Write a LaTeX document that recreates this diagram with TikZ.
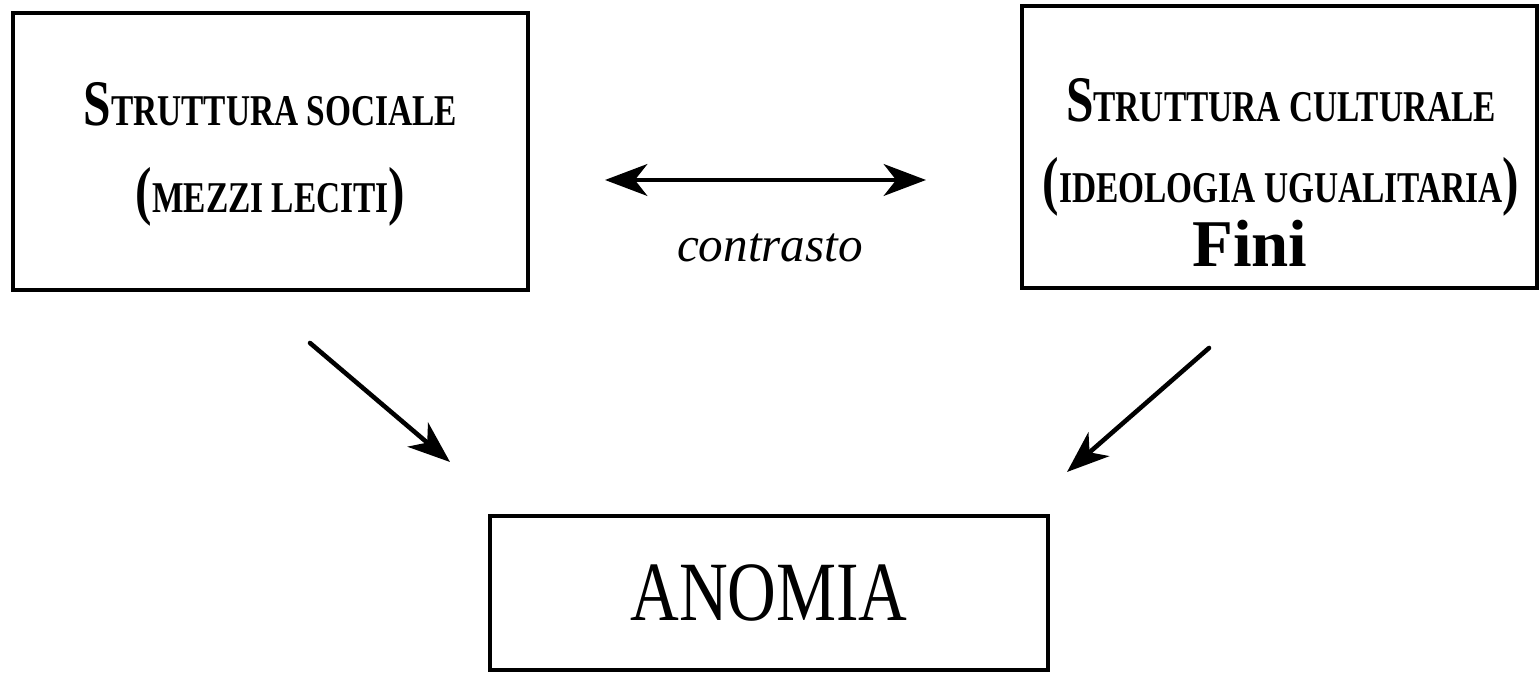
\documentclass[tikz,border=0pt]{standalone}
\usepackage{fontspec}
\setmainfont{Liberation Serif}
\newfontfamily\narrowserif{Liberation Serif}[FakeStretch=0.76]
\newfontfamily\anomiaserif{Liberation Serif}[FakeStretch=0.80]
\usetikzlibrary{arrows.meta}

% big initial and small-cap sized rest
\newcommand{\bigsc}[1]{{\fontsize{18.5}{20}\selectfont #1}}
\newcommand{\smallsc}[1]{{\fontsize{12.5}{14}\selectfont #1}}

\begin{document}
\begin{tikzpicture}[>={Stealth[length=12pt,width=9pt,inset=3.5pt]},
    box/.style={draw=black,line width=1.2pt,inner sep=0pt},
    title/.style={font=\narrowserif\bfseries,anchor=base,inner sep=0pt}]
    \useasboundingbox (0,0) rectangle (15.39,6.76);
    % boxes
    \node[box,minimum width=5.15cm,minimum height=2.77cm] (sociale) at (2.705,5.245) {};
    \node[box,minimum width=5.15cm,minimum height=2.82cm] (culturale) at (12.795,5.29) {};
    \node[box,minimum width=5.58cm,minimum height=1.54cm,
        font={\anomiaserif\fontsize{24}{26}\selectfont}] (anomia) at (7.69,0.83) {ANOMIA};
    % texts
    \node[title] (sociale1) at (2.705,5.50) {\bigsc{S}\smallsc{TRUTTURA SOCIALE}};
    \node[title] (sociale2) at (2.705,4.63) {\bigsc{(}\smallsc{MEZZI LECITI}\bigsc{)}};
    \node[title] (culturale1) at (12.81,5.54) {\bigsc{S}\smallsc{TRUTTURA CULTURALE}};
    \node[title] (culturale2) at (12.81,4.73) {\bigsc{(}\smallsc{IDEOLOGIA UGUALITARIA}\bigsc{)}};
    \node[anchor=base,inner sep=0pt,font=\fontsize{19}{21}\selectfont\bfseries] (fini) at (12.50,4.09) {Fini};
    \node[anchor=base,inner sep=0pt,font=\fontsize{14}{16}\selectfont\itshape] (contrasto) at (7.70,4.14) {contrasto};
    % arrows
    \coordinate (c1) at (6.05,4.96);
    \coordinate (c2) at (9.26,4.96);
    \coordinate (s1) at (3.10,3.33);
    \coordinate (s2) at (4.50,2.14);
    \coordinate (u1) at (12.09,3.28);
    \coordinate (u2) at (10.67,2.04);
    \draw[<->,line width=1.4pt] (c1)--(c2);
    \draw[->,line width=1.3pt,line cap=round] (s1)--(s2);
    \draw[->,line width=1.3pt,line cap=round] (u1)--(u2);
\end{tikzpicture}
\end{document}
